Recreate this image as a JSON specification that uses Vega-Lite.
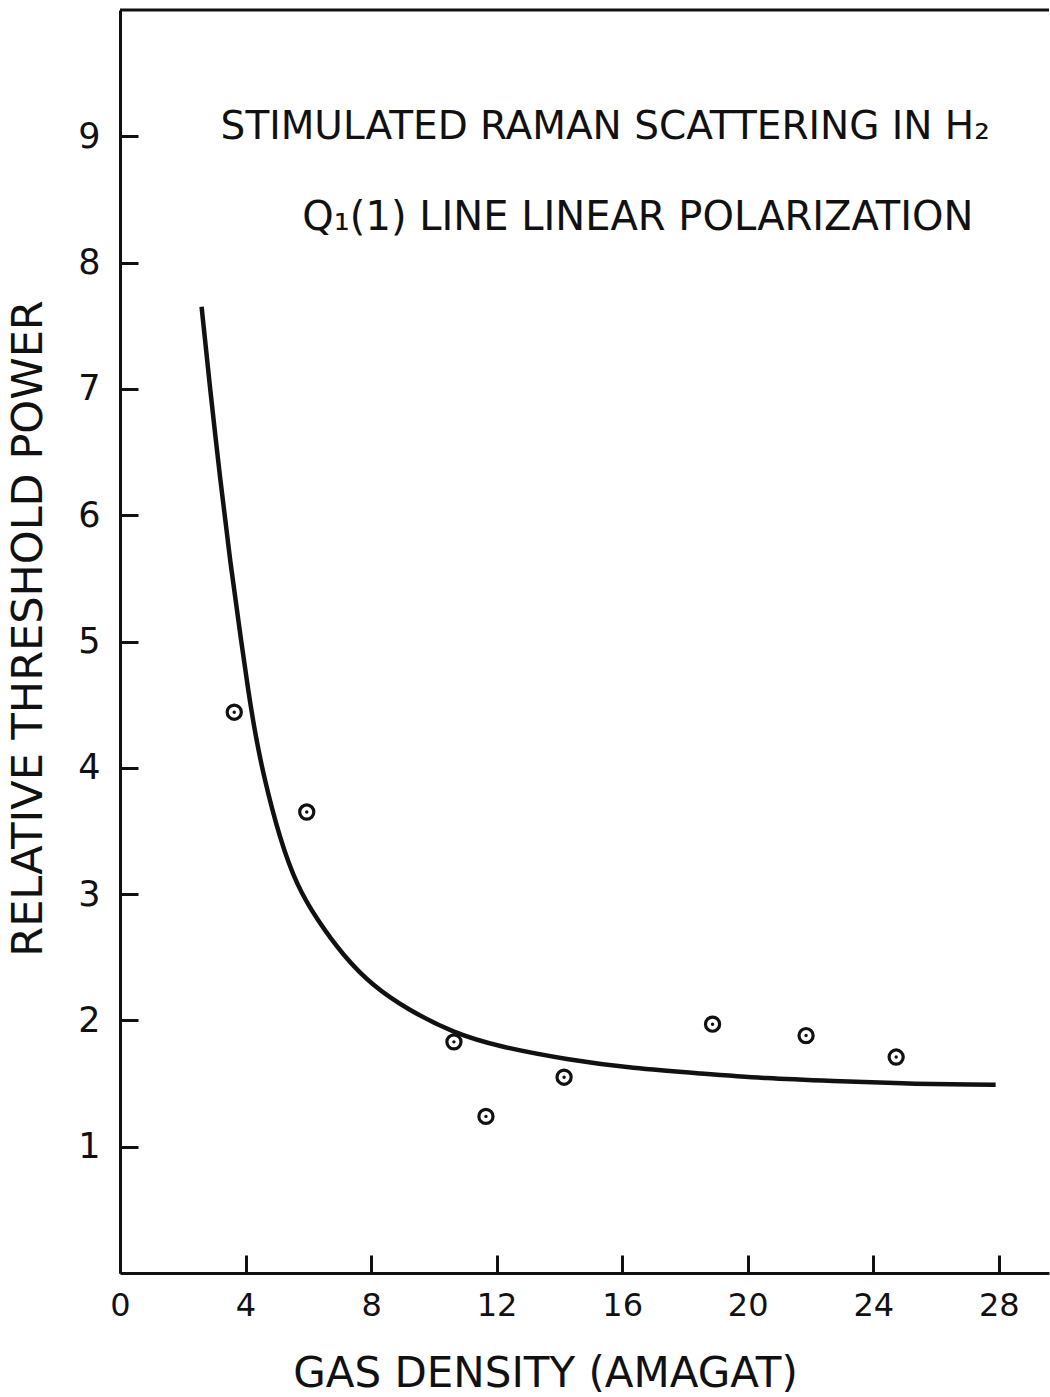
{
  "$schema": "https://vega.github.io/schema/vega-lite/v6.json",
  "width": 929,
  "height": 1263,
  "autosize": {"type": "none"},
  "padding": {"left": 120, "top": 10, "right": 1, "bottom": 124},
  "background": "white",
  "config": {
    "view": {"stroke": null},
    "font": "DejaVu Sans",
    "axis": {
      "grid": false,
      "domainColor": "#111",
      "domainWidth": 3,
      "tickColor": "#111",
      "tickWidth": 3,
      "labelColor": "#111",
      "titleColor": "#111",
      "labelFont": "DejaVu Sans",
      "titleFont": "DejaVu Sans",
      "titleFontWeight": "normal",
      "labelFlush": false,
      "labelOverlap": false
    }
  },
  "datasets": {
    "curve": [
      {"density": 2.6, "power": 7.65},
      {"density": 2.87, "power": 7.0},
      {"density": 3.19, "power": 6.29},
      {"density": 3.51, "power": 5.63},
      {"density": 3.88, "power": 4.97},
      {"density": 4.08, "power": 4.62},
      {"density": 4.3, "power": 4.28},
      {"density": 4.57, "power": 3.94},
      {"density": 5.1, "power": 3.43},
      {"density": 5.63, "power": 3.07},
      {"density": 6.27, "power": 2.8},
      {"density": 7.12, "power": 2.51},
      {"density": 8.07, "power": 2.27},
      {"density": 9.14, "power": 2.09},
      {"density": 10.62, "power": 1.9},
      {"density": 12.11, "power": 1.79},
      {"density": 14.24, "power": 1.69},
      {"density": 16.36, "power": 1.62},
      {"density": 18.49, "power": 1.58},
      {"density": 20.61, "power": 1.54},
      {"density": 22.73, "power": 1.52},
      {"density": 24.86, "power": 1.5},
      {"density": 27.41, "power": 1.49},
      {"density": 27.9, "power": 1.49}
    ],
    "measured": [
      {"density": 3.64, "power": 4.44},
      {"density": 5.95, "power": 3.65},
      {"density": 10.64, "power": 1.83},
      {"density": 11.66, "power": 1.24},
      {"density": 14.15, "power": 1.55},
      {"density": 18.88, "power": 1.97},
      {"density": 21.86, "power": 1.88},
      {"density": 24.73, "power": 1.71}
    ]
  },
  "layer": [
    {
      "data": {"name": "curve"},
      "mark": {"type": "line", "interpolate": "basis", "strokeWidth": 4.5, "color": "#111"},
      "encoding": {
        "x": {
          "field": "density",
          "type": "quantitative",
          "scale": {"domain": [0, 29.6], "nice": false, "zero": false},
          "axis": {
            "values": [0, 4, 8, 12, 16, 20, 24, 28],
            "format": "d",
            "tickSize": -18,
            "labelPadding": 35,
            "labelFontSize": 32,
            "title": "GAS DENSITY (AMAGAT)",
            "titleFontSize": 42,
            "titleX": 425,
            "titleY": 100,
            "titleAlign": "center",
            "titleBaseline": "middle"
          }
        },
        "y": {
          "field": "power",
          "type": "quantitative",
          "scale": {"domain": [0, 10], "nice": false, "zero": false},
          "axis": {
            "values": [1, 2, 3, 4, 5, 6, 7, 8, 9],
            "format": "d",
            "tickSize": -18,
            "labelPadding": 38,
            "labelFontSize": 35,
            "title": "RELATIVE THRESHOLD POWER",
            "titleFontSize": 43,
            "titleX": -92,
            "titleY": 618,
            "titleAngle": -90,
            "titleAlign": "center",
            "titleBaseline": "middle"
          }
        }
      }
    },
    {
      "data": {"values": [{"edge": "top"}]},
      "mark": {"type": "rule", "strokeWidth": 3, "color": "#111"},
      "encoding": {"y": {"datum": 10}}
    },
    {
      "data": {"name": "measured"},
      "mark": {"type": "point", "shape": "circle", "filled": false, "size": 200, "strokeWidth": 3.2, "color": "#111", "opacity": 1},
      "encoding": {
        "x": {"field": "density", "type": "quantitative"},
        "y": {"field": "power", "type": "quantitative"}
      }
    },
    {
      "data": {"name": "measured"},
      "mark": {"type": "circle", "size": 12, "color": "#111", "opacity": 1},
      "encoding": {
        "x": {"field": "density", "type": "quantitative"},
        "y": {"field": "power", "type": "quantitative"}
      }
    },
    {
      "data": {"values": [{"label": "STIMULATED RAMAN SCATTERING IN H₂"}]},
      "mark": {"type": "text", "fontSize": 39, "align": "center", "baseline": "alphabetic", "color": "#111"},
      "encoding": {
        "text": {"field": "label"},
        "x": {"datum": 15.46},
        "y": {"datum": 8.98}
      }
    },
    {
      "data": {"values": [{"label": "Q₁(1) LINE  LINEAR POLARIZATION"}]},
      "mark": {"type": "text", "fontSize": 40, "align": "center", "baseline": "alphabetic", "color": "#111"},
      "encoding": {
        "text": {"field": "label"},
        "x": {"datum": 16.5},
        "y": {"datum": 8.26}
      }
    }
  ]
}
